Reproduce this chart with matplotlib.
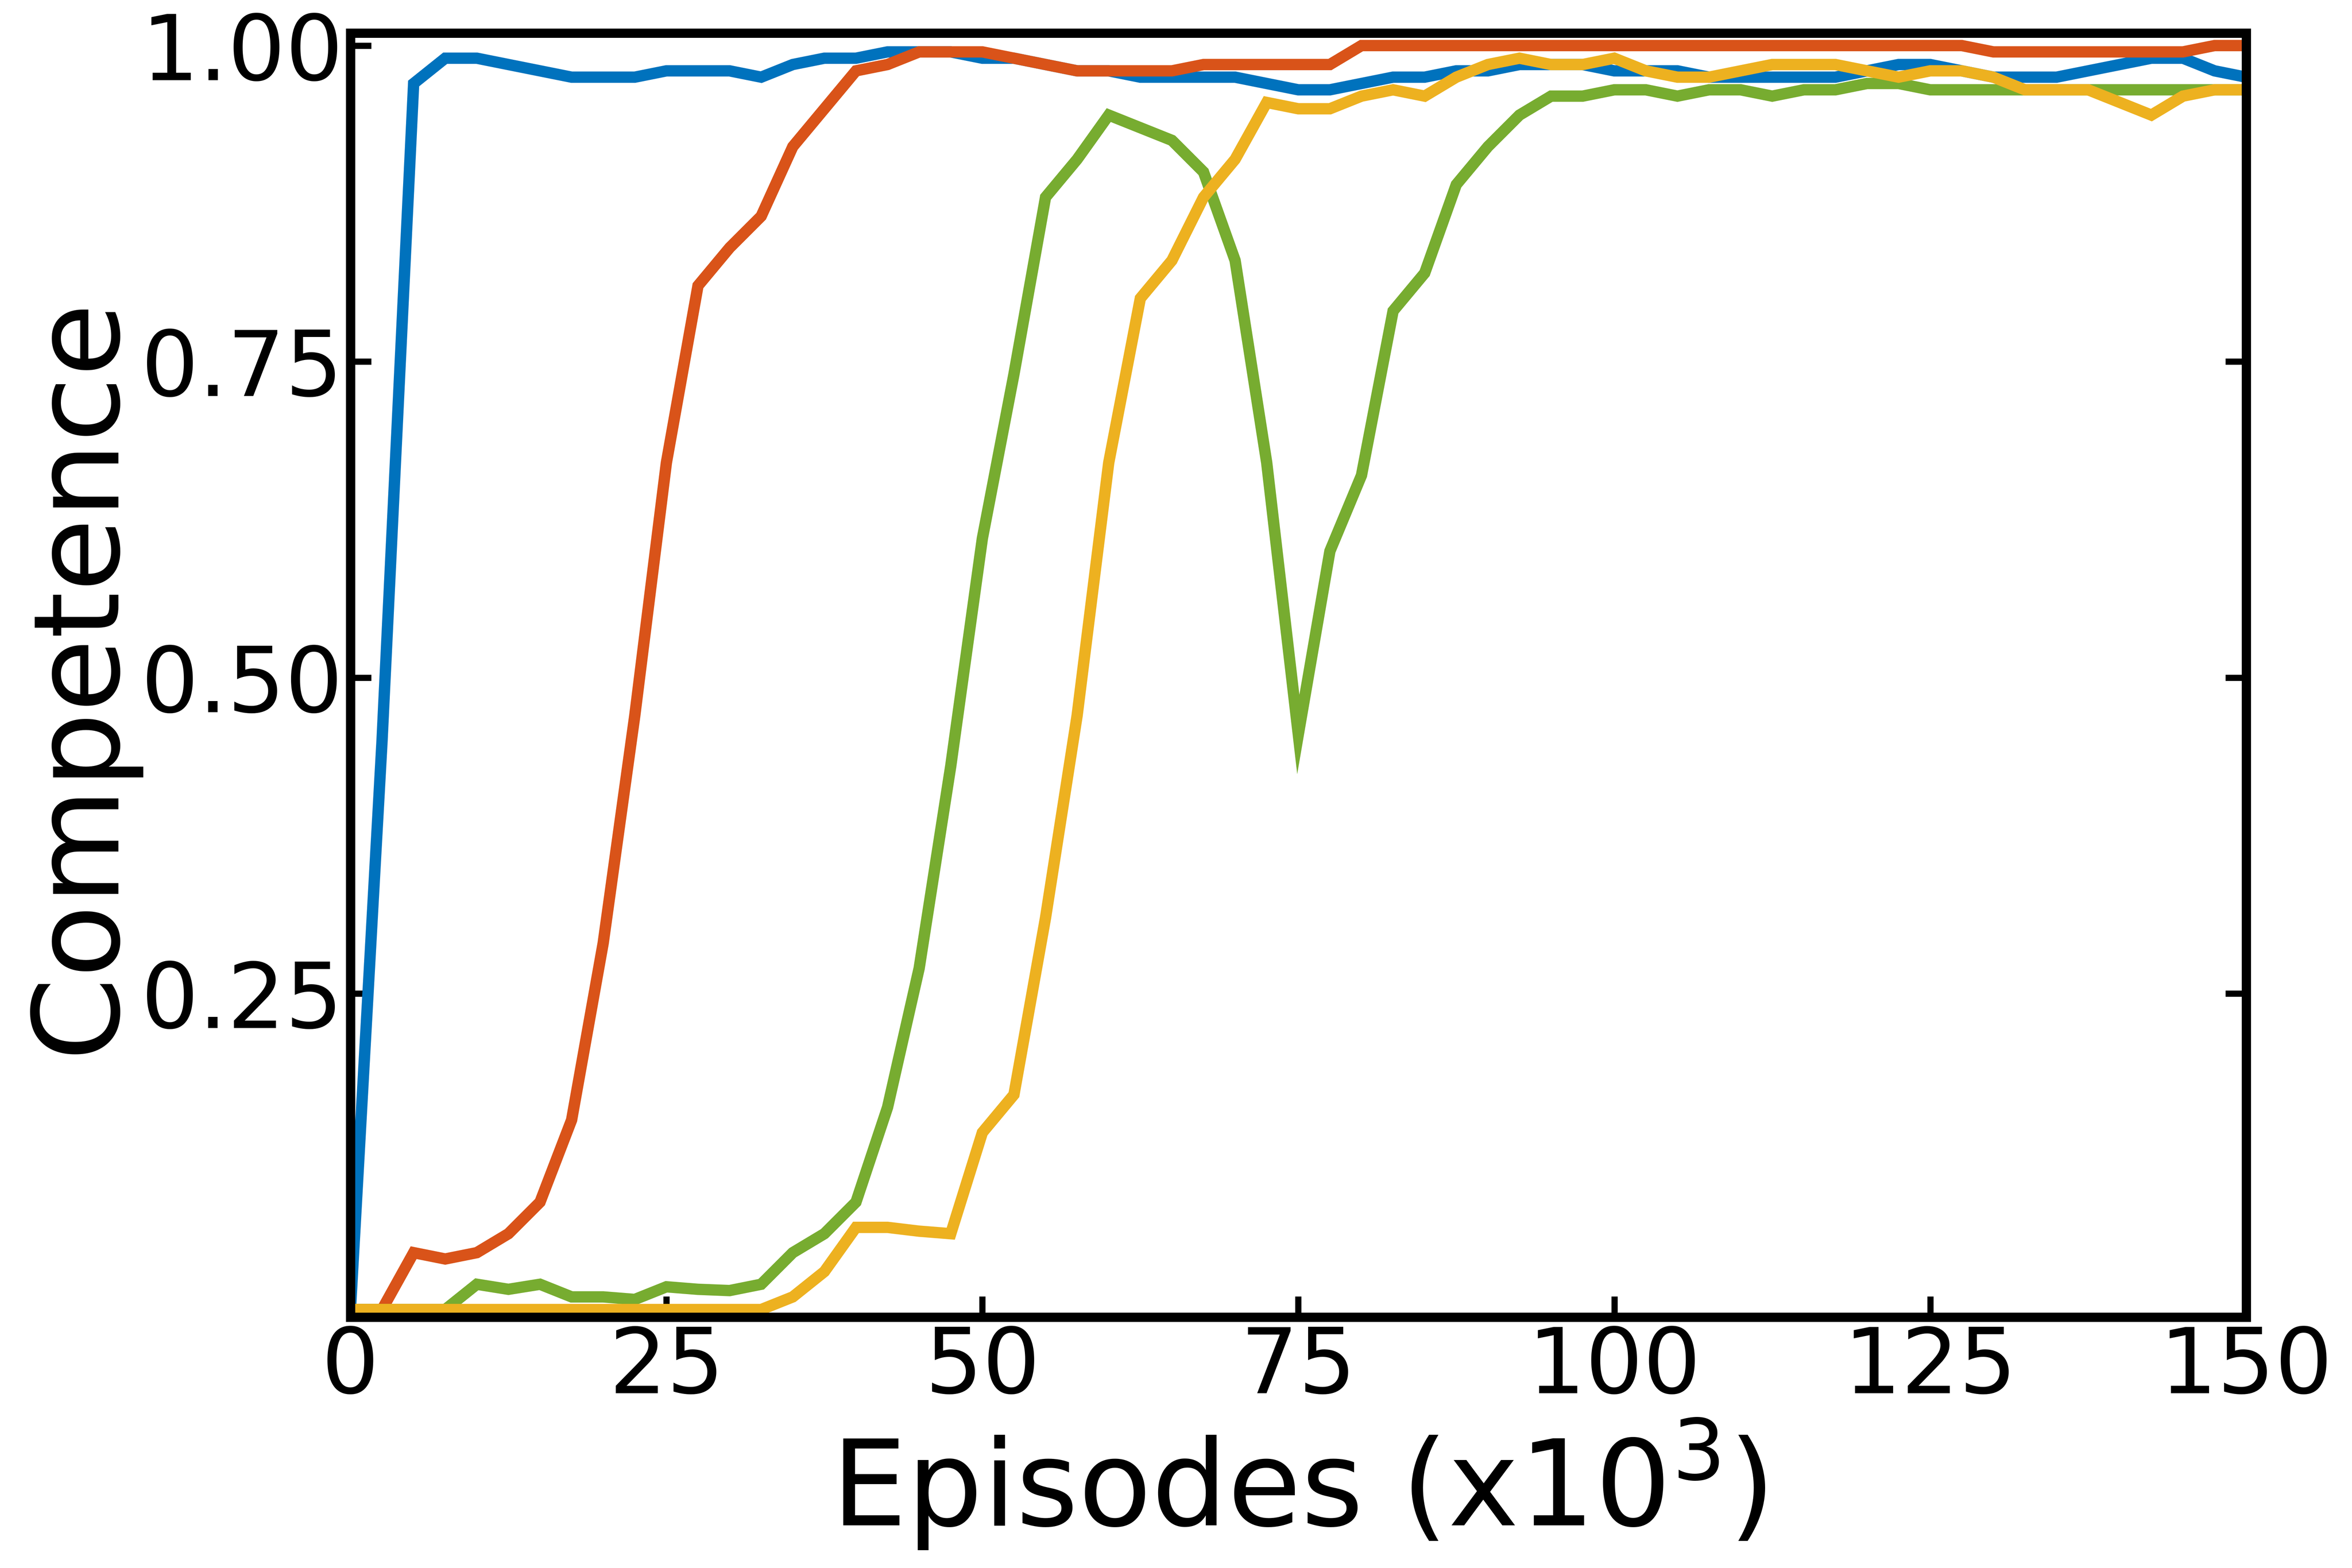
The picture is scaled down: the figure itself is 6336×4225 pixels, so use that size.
import numpy as np
import matplotlib
matplotlib.use("Agg")
import matplotlib.pyplot as plt

x = np.arange(0, 150.01, 2.5)
blue = [0, 0.45, 0.97, 0.99, 0.99, 0.985, 0.98, 0.975, 0.975, 0.975, 0.98, 0.98, 0.98, 0.975, 0.985, 0.99, 0.99, 0.995, 0.995, 0.995,
        0.99, 0.99, 0.985, 0.98, 0.98, 0.975, 0.975, 0.975, 0.975, 0.97, 0.965, 0.965, 0.97, 0.975, 0.975, 0.98, 0.98, 0.985, 0.985, 0.985,
        0.98, 0.98, 0.98, 0.975, 0.975, 0.975, 0.975, 0.975, 0.98, 0.985, 0.985, 0.98, 0.975, 0.975, 0.975, 0.98, 0.985, 0.99, 0.99, 0.98, 0.975]
red = [0, 0, 0.045, 0.04, 0.045, 0.06, 0.085, 0.15, 0.29, 0.47, 0.67, 0.81, 0.84, 0.865, 0.92, 0.95, 0.98, 0.985, 0.995, 0.995,
       0.995, 0.99, 0.985, 0.98, 0.98, 0.98, 0.98, 0.985, 0.985, 0.985, 0.985, 0.985, 1.0, 1.0, 1.0, 1.0, 1.0, 1.0, 1.0, 1.0,
       1.0, 1.0, 1.0, 1.0, 1.0, 1.0, 1.0, 1.0, 1.0, 1.0, 1.0, 1.0, 0.995, 0.995, 0.995, 0.995, 0.995, 0.995, 0.995, 1.0, 1.0]
green = [0, 0, 0, 0, 0.02, 0.016, 0.02, 0.01, 0.01, 0.008, 0.018, 0.016, 0.015, 0.02, 0.045, 0.06, 0.085, 0.16, 0.27, 0.43,
         0.61, 0.74, 0.88, 0.91, 0.945, 0.935, 0.925, 0.9, 0.83, 0.67, 0.455, 0.6, 0.66, 0.79, 0.82, 0.89, 0.92, 0.945, 0.96, 0.96,
         0.965, 0.965, 0.96, 0.965, 0.965, 0.96, 0.965, 0.965, 0.97, 0.97, 0.965, 0.965, 0.965, 0.965, 0.965, 0.965, 0.965, 0.965, 0.965, 0.965, 0.965]
yellow = [0, 0, 0, 0, 0, 0, 0, 0, 0, 0, 0, 0, 0, 0, 0.01, 0.03, 0.065, 0.065, 0.062, 0.06,
          0.14, 0.17, 0.31, 0.47, 0.67, 0.80, 0.83, 0.88, 0.91, 0.955, 0.95, 0.95, 0.96, 0.965, 0.96, 0.975, 0.985, 0.99, 0.985, 0.985,
          0.99, 0.98, 0.975, 0.975, 0.98, 0.985, 0.985, 0.985, 0.98, 0.975, 0.98, 0.98, 0.975, 0.965, 0.965, 0.965, 0.955, 0.945, 0.96, 0.965, 0.965]

fig = plt.figure(figsize=(15.84, 10.5625), dpi=400)
ax = fig.add_axes([0.149, 0.160, 0.806, 0.819])
for y, c in [(blue, '#0072BD'), (red, '#D95319'), (green, '#77AC30'), (yellow, '#EDB120')]:
    ax.plot(x, y, color=c, lw=5.5, solid_joinstyle='miter')
ax.set_xlim(0, 150)
ax.set_ylim(-0.006, 1.01)
ax.set_xticks([0, 25, 50, 75, 100, 125, 150])
ax.set_yticks([0.25, 0.5, 0.75, 1.0])
ax.set_yticklabels(['0.25', '0.50', '0.75', '1.00'])
ax.tick_params(direction='in', labelsize=44, width=3, length=10, right=True, labelright=False)
for s in ax.spines.values():
    s.set_linewidth(4.5)
ax.set_xlabel('Episodes (x10$^3$)', fontsize=58, labelpad=2)
ax.set_ylabel('Competence', fontsize=58, labelpad=2)
fig.savefig('out.png')
